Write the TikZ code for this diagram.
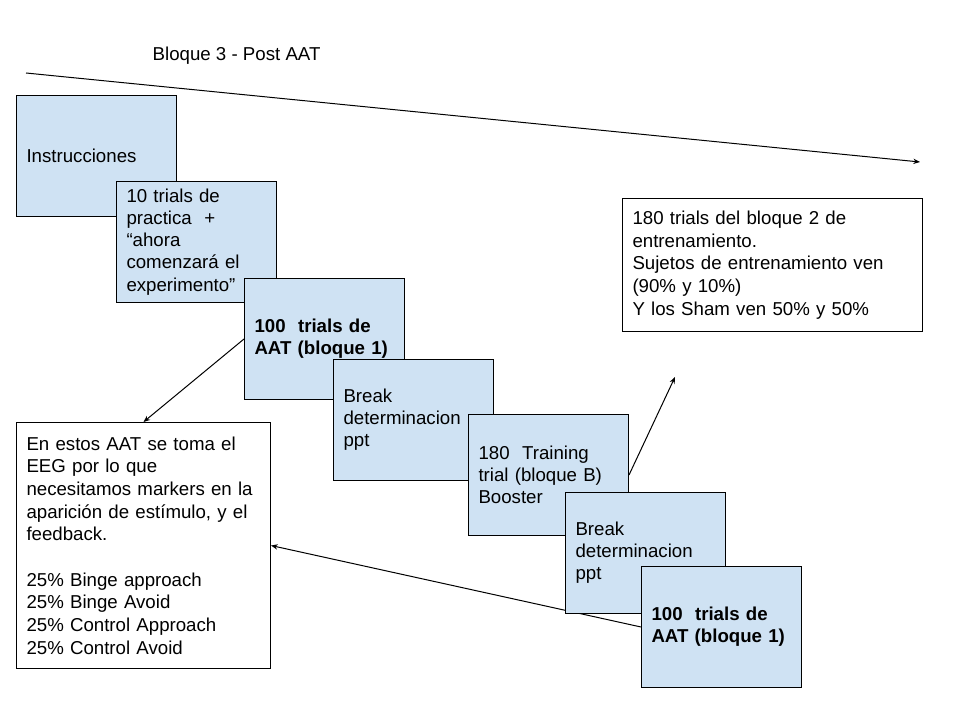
\documentclass[tikz,border=0pt]{standalone}
\usepackage{fontspec}
\setmainfont{Liberation Sans}
\usetikzlibrary{positioning,arrows.meta,backgrounds}
\definecolor{celeste}{HTML}{CFE2F3}
\tikzset{
  paso/.style={draw=black,fill=celeste,line width=0.75pt,anchor=north west,align=left,
    inner xsep=7.5pt,text width=105pt,minimum height=90.75pt,font=\fontsize{14}{16.6}\selectfont},
  nota/.style={draw=black,fill=white,line width=0.75pt,anchor=north west,align=left,
    inner xsep=7.5pt,font=\fontsize{14}{17}\selectfont},
  flecha/.style={-{Stealth[length=5pt,width=4pt]},line width=0.75pt},
}

\begin{document}
\begin{tikzpicture}[x=0.75pt,y=-0.75pt]
\useasboundingbox (0,0) rectangle (960,720);
\node[anchor=west,font=\fontsize{14}{16.6}\selectfont] (titulo) at (148,56) {Bloque 3 - Post AAT};
\coordinate (ini) at (26,73);
\coordinate (fin) at (920,162);
\draw[flecha] (ini) -- (fin);

\node[paso] (instr) at (16,95) {Instrucciones};
\node[paso] (practica) at (116,181) {10 trials de\\practica~ +\\“ahora\\comenzará el\\experimento”};
\node[paso,font=\fontsize{14}{16.6}\selectfont\bfseries] (aat1) at (244,278) {100~ trials de\\AAT (bloque 1)};
\node[paso] (break1) at (333,359) {Break\\determinacion\\ppt};
\node[paso] (train) at (468,414) {180~ Training\\trial (bloque B)\\Booster};
\node[paso] (break2) at (565,492) {Break\\determinacion\\ppt};
\node[paso,font=\fontsize{14}{16.6}\selectfont\bfseries] (aat2) at (641,566) {100~ trials de\\AAT (bloque 1)};

\node[nota,text width=210pt,minimum height=99.75pt] (bloque2) at (622,198)
  {180 trials del bloque 2 de\\entrenamiento.\\Sujetos de entrenamiento ven\\(90\% y 10\%)\\Y los Sham ven 50\% y 50\%};
\node[nota,text width=175.5pt,minimum height=184.5pt] (eeg) at (16,422)
  {En estos AAT se toma el\\EEG por lo que\\necesitamos markers en la\\aparición de estímulo, y el\\feedback.\\[17pt]25\% Binge approach\\25\% Binge Avoid\\25\% Control Approach\\25\% Control Avoid};

\coordinate (sube) at (675,377);
\begin{scope}[on background layer]
\draw[flecha] (aat1.west) -- (eeg.north);
\draw[flecha] (train.east) -- (sube);
\draw[flecha] (aat2.west) -- (eeg.east);
\end{scope}
\end{tikzpicture}
\end{document}
